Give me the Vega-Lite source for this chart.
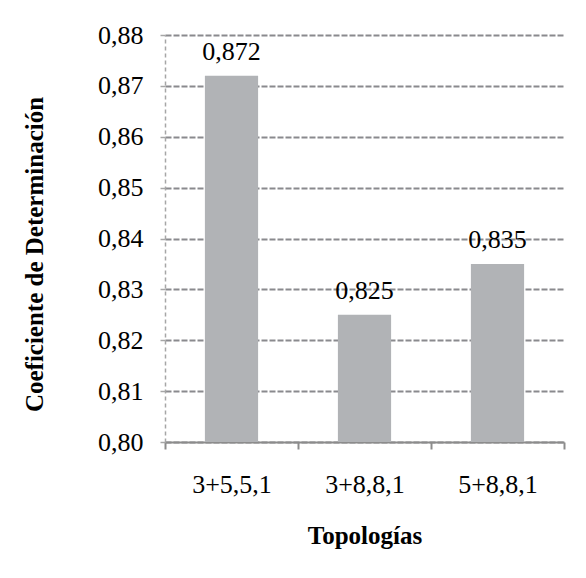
{
  "$schema": "https://vega.github.io/schema/vega-lite/v6.json",
  "autosize": {"type": "none"},
  "padding": {"left": 165, "top": 35, "right": 22, "bottom": 136},
  "width": 399,
  "height": 407,
  "background": "white",
  "data": {"values": [
    {"topologia": "3+5,5,1", "r2": 0.872},
    {"topologia": "3+8,8,1", "r2": 0.825},
    {"topologia": "5+8,8,1", "r2": 0.835}
  ]},
  "encoding": {
    "x": {
      "field": "topologia", "type": "nominal", "sort": null,
      "scale": {"paddingInner": 0, "paddingOuter": 0},
      "axis": {
        "title": "Topologías",
        "labelAngle": 0,
        "tickBand": "extent",
        "tickSize": 7,
        "tickColor": "#8c8c8c",
        "tickWidth": 2,
        "domainColor": "#8c8c8c",
        "domainWidth": 2,
        "labelPadding": 22,
        "titlePadding": 26,
        "grid": false
      }
    },
    "y": {
      "field": "r2", "type": "quantitative",
      "scale": {"domain": [0.8, 0.88], "zero": false, "nice": false},
      "axis": {
        "title": "Coeficiente de Determinación",
        "values": [0.8, 0.81, 0.82, 0.83, 0.84, 0.85, 0.86, 0.87, 0.88],
        "format": ".2f",
        "tickSize": 5,
        "tickColor": "#a6a6a6",
        "tickWidth": 1.5,
        "domainColor": "#a6a6a6",
        "domainWidth": 1.5,
        "domainDash": [4, 3],
        "labelPadding": 17,
        "titlePadding": 50,
        "titleY": 219,
        "grid": true,
        "gridColor": "#8a8a8e",
        "gridWidth": 2,
        "gridDash": [6, 2]
      }
    }
  },
  "layer": [
    {
      "mark": {"type": "bar", "color": "#b1b3b6", "width": {"band": 0.4}},
      "encoding": {"y2": {"datum": 0.8}}
    },
    {
      "mark": {"type": "text", "baseline": "alphabetic", "dy": -16, "font": "Liberation Serif", "fontWeight": 400, "fontSize": 26, "color": "black"},
      "encoding": {"text": {"field": "r2", "type": "quantitative", "format": ".3f"}}
    }
  ],
  "config": {
    "locale": {"number": {"decimal": ",", "thousands": ".", "grouping": [3], "currency": ["", " €"]}},
    "view": {"stroke": null},
    "axis": {
      "labelFont": "serif",
      "labelFontSize": 26,
      "labelColor": "black",
      "titleFont": "Liberation Serif",
      "titleFontSize": 25,
      "titleFontWeight": "bold",
      "titleColor": "black"
    }
  }
}
